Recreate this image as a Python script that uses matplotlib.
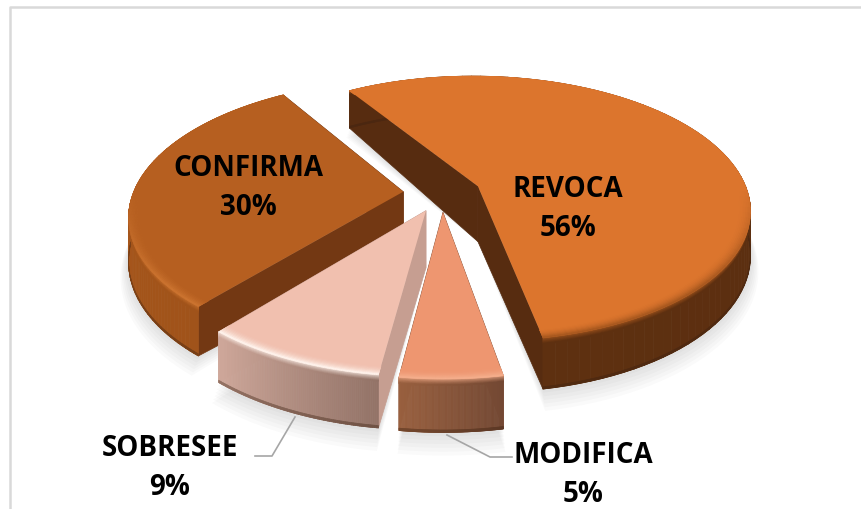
import numpy as np
import matplotlib
matplotlib.use("Agg")
import matplotlib.pyplot as plt
from matplotlib.collections import PolyCollection
from matplotlib.colors import to_rgb

labels = ["REVOCA", "MODIFICA", "SOBRESEE", "CONFIRMA"]
values = [56, 5, 9, 30]

top_colors = ["#DC752D", "#EE9670", "#F1C0AF", "#B65F20"]
cut_colors = ["#572C10", "#8A5238", "#C69E91", "#733813"]
wall_left = ["#5E3010", "#99603F", "#CFA89B", "#B05A1C"]
wall_right = ["#572C10", "#734833", "#937367", "#A0531A"]
rim_colors = ["#A8581F", "#F5AE8C", "#FFF3EC", "#CC7430"]

cx, cy = 442, 194
rx, ry = 270, 131
k = 0.17
depth = 43
apex_depth = 1.3
explode = 0.144
start = -32.0

plt.rcParams['font.family'] = ['Open Sans', 'DejaVu Sans']

fig = plt.figure(figsize=(8.62, 5.1), dpi=100)
ax = fig.add_axes([0, 0, 1, 1])
ax.set_xlim(0, 862)
ax.set_ylim(510, 0)
ax.axis("off")


def project(u, v, z=0.0):
    w = 1 - k * v
    return cx + rx * u / w, cy + ry * v / w + depth * z / w


def mix(a, b, t):
    a, b = np.array(to_rgb(a)), np.array(to_rgb(b))
    return tuple(a + (b - a) * t)


def rim_point(a, mid, r, z=0.0):
    u = explode * np.sin(mid) + r * np.sin(a)
    v = -explode * np.cos(mid) - r * np.cos(a)
    return project(u, v, z)


def strip(a, mid, r0, z0, r1, z1, color_at):
    # quads between two rings of the slice, one colour for each angle step
    polys, cols = [], []
    for j in range(len(a) - 1):
        polys.append([rim_point(a[j], mid, r0, z0), rim_point(a[j + 1], mid, r0, z0),
                      rim_point(a[j + 1], mid, r1, z1), rim_point(a[j], mid, r1, z1)])
        cols.append(color_at(j))
    return polys, cols


def draw_slice(a0, a1, i, zo):
    mid = (a0 + a1) / 2
    a = np.linspace(a0, a1, 90)
    apex = rim_point(a0, mid, 0.0)
    apex_low = rim_point(a0, mid, 0.0, apex_depth)

    # soft shadow under the slice
    for s in range(7):
        g = s / 6
        bx, by = rim_point(a, mid, 1.0 + 0.028 * (1 - g), 1.0 + 0.32 * (1 - g))
        ax.fill(np.r_[apex_low[0], bx], np.r_[apex_low[1], by], color="#000000",
                alpha=0.018, lw=0, zorder=zo)

    # the two cut faces
    for end in (a0, a1):
        e = rim_point(end, mid, 1.0)
        f = rim_point(end, mid, 1.0, 1.0)
        ax.fill([apex[0], e[0], f[0], apex_low[0]], [apex[1], e[1], f[1], apex_low[1]],
                color=cut_colors[i], lw=0.5, ec=cut_colors[i], zorder=zo + 0.1)

    def wall_col(j):
        return mix(wall_right[i], wall_left[i], j / (len(a) - 2))

    # outer wall with a thin dark foot
    polys, cols = strip(a, mid, 1.0, 0.0, 1.0, 1.0, wall_col)
    p2, c2 = strip(a, mid, 1.0, 0.955, 1.0, 1.0,
                   lambda j: mix(wall_col(j), "#3A2010", 0.4))
    polys += p2
    cols += c2

    # top face
    tx, ty = rim_point(a, mid, 1.0)
    ax.fill(np.r_[apex[0], tx], np.r_[apex[1], ty], color=top_colors[i],
            lw=0, zorder=zo + 0.3)

    # bevel: top colour -> rim colour on the face, rim colour -> wall on the wall
    lit = lambda j: min(1.0, max(0.0, -np.cos(a[j])) * 1.5)
    bevel_p, bevel_c = [], []
    steps = np.linspace(0, 1, 9)
    for s0, s1 in zip(steps[:-1], steps[1:]):
        r0, r1 = 0.955 + 0.045 * s0, 0.955 + 0.045 * s1
        p, c = strip(a, mid, r0, 0.0, r1, 0.0,
                     lambda j: mix(top_colors[i], rim_colors[i], s1 * s1 * lit(j)))
        bevel_p += p
        bevel_c += c
        z0, z1 = 0.12 * s0, 0.12 * s1
        p, c = strip(a, mid, 1.0, z0, 1.0, z1,
                     lambda j: mix(mix(top_colors[i], rim_colors[i], lit(j)),
                                   wall_col(j), s1 ** 0.7))
        polys += p
        cols += c

    ax.add_collection(PolyCollection(polys, facecolors=cols, edgecolors=cols,
                                     linewidths=0.5, zorder=zo + 0.2))
    ax.add_collection(PolyCollection(bevel_p, facecolors=bevel_c, edgecolors=bevel_c,
                                     linewidths=0.4, zorder=zo + 0.4))


# frame
ax.plot([862, 10.5, 10.5], [8, 8, 510], color="#D9D9D9", lw=1.8, zorder=0)

edges = np.r_[0, np.cumsum(values)] / sum(values) * 360 + start
angles = np.radians(edges)
for n, i in enumerate([3, 0, 2, 1]):
    draw_slice(angles[i], angles[i + 1], i, n + 1)

# leader lines
ax.plot([255, 272, 295], [457, 457, 418], color="#A6A6A6", lw=1.2, zorder=20)
ax.plot([447, 490, 512], [436, 458, 458], color="#A6A6A6", lw=1.2, zorder=20)

# labels
label_xy = [(568, 209), (583, 475), (170, 468), (248, 188)]
for name, val, (x, y) in zip(labels, values, label_xy):
    ax.text(x, y, f"{name}\n{val}%", ha="center", va="center", fontsize=20,
            fontweight="bold", color="black", linespacing=1.46, zorder=25)

fig.savefig("out.png", dpi=100)
